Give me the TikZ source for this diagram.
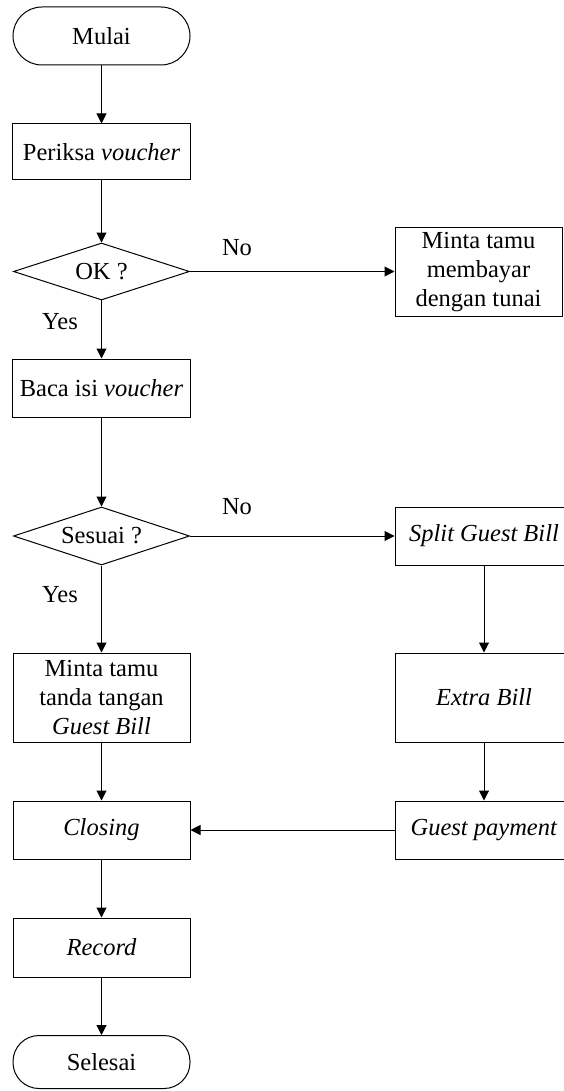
\documentclass[tikz,border=0pt]{standalone}
\usepackage{fontspec}
\setmainfont{Liberation Serif}
\usetikzlibrary{shapes.geometric,arrows.meta}
\begin{document}
\begin{tikzpicture}[x=1pt,y=-1pt,
  font=\fontsize{24.5}{29}\selectfont,
  line width=1pt,
  box/.style={draw, rectangle, inner sep=0pt, align=center},
  term/.style={draw, rectangle, rounded corners=#1, inner sep=0pt, minimum width=177pt},
  dec/.style={draw, diamond, aspect=3.09, inner sep=0pt, minimum width=176pt, minimum height=57pt},
  arr/.style={-{Triangle[length=10pt,width=10pt]}},
  lbl/.style={inner sep=0pt}]
\useasboundingbox (0,0) rectangle (564,1091);
\clip (0,0) rectangle (564,1091);
% left column
\node[term=29pt, minimum height=58pt] (mulai) at (101.5,36) {Mulai};
\node[box, minimum width=178pt, minimum height=56pt] (periksa) at (101.5,152) {Periksa \textit{voucher}};
\node[dec] (ok) at (101.5,271.5) {OK ?};
\node[box, minimum width=178pt, minimum height=58pt] (baca) at (101.5,388) {Baca isi \textit{voucher}};
\node[dec, minimum height=58pt] (sesuai) at (101.5,536) {Sesuai ?};
\node[box, minimum width=177pt, minimum height=89pt] (ttd) at (101.5,697.5) {Minta tamu\\tanda tangan\\\textit{Guest Bill}};
\node[box, minimum width=177pt, minimum height=58pt] (closing) at (101.5,830) {\textit{Closing}};
\node[box, minimum width=177pt, minimum height=59pt] (record) at (101.5,947.5) {\textit{Record}};
\node[term=26pt, minimum height=53pt] (selesai) at (101.5,1062) {Selesai};
% right column
\node[box, minimum width=167pt, minimum height=88pt] (tunai) at (478.5,272) {Minta tamu\\membayar\\dengan tunai};
\node[box, minimum width=178pt, minimum height=58pt] (split) at (484,536) {\textit{Split Guest Bill}};
\node[box, minimum width=178pt, minimum height=89pt] (extra) at (484,697.5) {\textit{Extra Bill}};
\node[box, minimum width=178pt, minimum height=58pt] (pay) at (484,830) {\textit{Guest payment}};
% labels
\node[lbl] (no1) at (237,248) {No};
\node[lbl] (no2) at (237,507) {No};
\node[lbl] (yes1) at (60,322) {Yes};
\node[lbl] (yes2) at (60,595) {Yes};
% connectors
\draw[arr] (mulai) -- (periksa);
\draw[arr] (periksa) -- (ok);
\draw[arr] (ok) -- (baca);
\draw[arr] (ok.east) -- (ok.east -| tunai.west);
\draw[arr] (baca) -- (sesuai);
\draw[arr] (sesuai.east) -- (split.west);
\draw[arr] (sesuai) -- (ttd);
\draw[arr] (ttd) -- (closing);
\draw[arr] (split) -- (extra);
\draw[arr] (extra) -- (pay);
\draw[arr] (pay) -- (closing);
\draw[arr] (closing) -- (record);
\draw[arr] (record) -- (selesai);
\end{tikzpicture}
\end{document}
